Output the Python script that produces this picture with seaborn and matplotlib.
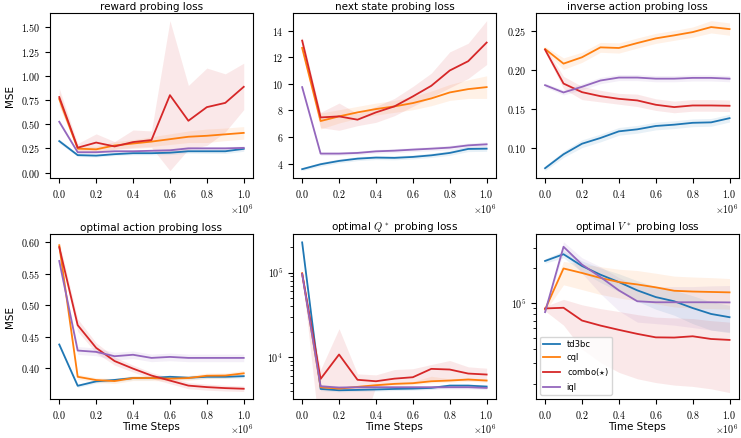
import matplotlib
matplotlib.use('Agg')
import matplotlib.pyplot as plt
import pandas as pd
import seaborn as sns
from matplotlib.ticker import FuncFormatter, MultipleLocator, LogLocator, NullFormatter
import numpy as np

plt.rcParams['font.family'] = ['DejaVu Sans']
plt.rcParams['mathtext.fontset'] = 'cm'

# x axis: training steps
steps = [0, 1e5, 2e5, 3e5, 4e5, 5e5, 6e5, 7e5, 8e5, 9e5, 1e6]
algos = ['td3bc', 'cql', 'combo($\\star$)', 'iql']
colors = ['#1f77b4', '#ff7f0e', '#d62728', '#9467bd']

# reward probing loss (mean, lower, upper)
reward = {
    'td3bc': [0.325, 0.180, 0.175, 0.190, 0.200, 0.200, 0.205, 0.220, 0.220, 0.220, 0.245],
    'cql': [0.760, 0.247, 0.240, 0.280, 0.300, 0.320, 0.345, 0.370, 0.380, 0.395, 0.410],
    'combo': [0.780, 0.257, 0.310, 0.270, 0.315, 0.336, 0.800, 0.535, 0.676, 0.720, 0.886],
    'iql': [0.525, 0.210, 0.210, 0.220, 0.220, 0.225, 0.230, 0.250, 0.250, 0.250, 0.255],
}
reward_lo = {
    'td3bc': [0.305, 0.165, 0.160, 0.175, 0.183, 0.183, 0.185, 0.200, 0.198, 0.197, 0.220],
    'cql': [0.700, 0.220, 0.210, 0.240, 0.260, 0.270, 0.290, 0.310, 0.310, 0.330, 0.345],
    'combo': [0.690, 0.230, 0.220, 0.240, 0.250, 0.260, 0.020, 0.240, 0.280, 0.420, 0.650],
    'iql': [0.505, 0.195, 0.195, 0.205, 0.205, 0.208, 0.212, 0.232, 0.232, 0.232, 0.236],
}
reward_hi = {
    'td3bc': [0.345, 0.195, 0.190, 0.205, 0.217, 0.217, 0.225, 0.240, 0.242, 0.243, 0.270],
    'cql': [0.830, 0.275, 0.270, 0.320, 0.340, 0.370, 0.400, 0.430, 0.450, 0.460, 0.475],
    'combo': [0.870, 0.300, 0.400, 0.320, 0.440, 0.430, 1.570, 0.900, 1.080, 1.020, 1.130],
    'iql': [0.545, 0.225, 0.225, 0.235, 0.235, 0.242, 0.248, 0.268, 0.268, 0.268, 0.274],
}

# next state probing loss
nstate = {
    'td3bc': [3.58, 3.95, 4.20, 4.37, 4.45, 4.43, 4.50, 4.62, 4.80, 5.10, 5.12],
    'cql': [12.70, 7.20, 7.55, 7.85, 8.10, 8.30, 8.55, 8.90, 9.35, 9.60, 9.75],
    'combo': [13.25, 7.47, 7.55, 7.30, 7.85, 8.30, 9.05, 9.85, 11.00, 11.70, 13.10],
    'iql': [9.75, 4.75, 4.75, 4.80, 4.92, 4.97, 5.05, 5.12, 5.20, 5.37, 5.45],
}
nstate_lo = {
    'td3bc': [3.47, 3.80, 4.05, 4.22, 4.30, 4.28, 4.35, 4.46, 4.62, 4.90, 4.92],
    'cql': [12.40, 6.60, 7.05, 7.40, 7.65, 7.85, 8.05, 8.35, 8.75, 8.90, 8.90],
    'combo': [12.95, 6.70, 6.50, 6.85, 7.10, 7.60, 8.30, 9.00, 9.70, 10.40, 11.45],
    'iql': [9.60, 4.62, 4.62, 4.66, 4.78, 4.82, 4.90, 4.96, 5.03, 5.20, 5.27],
}
nstate_hi = {
    'td3bc': [3.69, 4.10, 4.35, 4.52, 4.60, 4.58, 4.65, 4.78, 4.98, 5.30, 5.32],
    'cql': [13.00, 7.80, 8.05, 8.30, 8.55, 8.75, 9.05, 9.45, 9.95, 10.30, 10.60],
    'combo': [13.55, 7.85, 8.55, 7.75, 8.30, 8.90, 9.80, 10.80, 12.40, 13.05, 14.75],
    'iql': [9.90, 4.88, 4.88, 4.94, 5.06, 5.12, 5.20, 5.28, 5.37, 5.54, 5.63],
}

# inverse action probing loss
invact = {
    'td3bc': [0.0734, 0.0914, 0.1050, 0.1124, 0.1210, 0.1236, 0.1279, 0.1296, 0.1320, 0.1326, 0.1380],
    'cql': [0.2273, 0.2084, 0.2166, 0.2294, 0.2286, 0.2350, 0.2410, 0.2449, 0.2491, 0.2556, 0.2530],
    'combo': [0.2264, 0.1827, 0.1716, 0.1664, 0.1630, 0.1609, 0.1553, 0.1523, 0.1544, 0.1544, 0.1540],
    'iql': [0.1806, 0.1712, 0.1785, 0.1866, 0.1904, 0.1904, 0.1890, 0.1890, 0.1900, 0.1900, 0.1890],
}
invact_lo = {
    'td3bc': [0.0703, 0.0874, 0.1000, 0.1074, 0.1160, 0.1186, 0.1229, 0.1246, 0.1270, 0.1276, 0.1330],
    'cql': [0.2240, 0.2010, 0.2100, 0.2230, 0.2220, 0.2285, 0.2345, 0.2385, 0.2425, 0.2480, 0.2450],
    'combo': [0.2235, 0.1760, 0.1620, 0.1590, 0.1560, 0.1530, 0.1480, 0.1450, 0.1470, 0.1470, 0.1465],
    'iql': [0.1780, 0.1680, 0.1745, 0.1825, 0.1865, 0.1865, 0.1850, 0.1850, 0.1860, 0.1860, 0.1850],
}
invact_hi = {
    'td3bc': [0.0765, 0.0954, 0.1100, 0.1174, 0.1260, 0.1286, 0.1329, 0.1346, 0.1370, 0.1376, 0.1430],
    'cql': [0.2306, 0.2158, 0.2232, 0.2358, 0.2352, 0.2415, 0.2475, 0.2513, 0.2557, 0.2639, 0.2610],
    'combo': [0.2295, 0.1920, 0.1790, 0.1740, 0.1700, 0.1690, 0.1630, 0.1600, 0.1620, 0.1620, 0.1615],
    'iql': [0.1832, 0.1744, 0.1825, 0.1907, 0.1943, 0.1943, 0.1930, 0.1930, 0.1940, 0.1940, 0.1930],
}

# optimal action probing loss
optact = {
    'td3bc': [0.4373, 0.3717, 0.3787, 0.3810, 0.3840, 0.3840, 0.3860, 0.3845, 0.3860, 0.3860, 0.3870],
    'cql': [0.5950, 0.3860, 0.3808, 0.3792, 0.3840, 0.3840, 0.3830, 0.3840, 0.3877, 0.3880, 0.3915],
    'combo': [0.5920, 0.4680, 0.4320, 0.4110, 0.3990, 0.3880, 0.3800, 0.3720, 0.3696, 0.3680, 0.3670],
    'iql': [0.5700, 0.4277, 0.4256, 0.4187, 0.4210, 0.4160, 0.4176, 0.4160, 0.4160, 0.4160, 0.4160],
}
optact_lo = {
    'td3bc': [0.4340, 0.3690, 0.3760, 0.3783, 0.3813, 0.3813, 0.3833, 0.3818, 0.3833, 0.3833, 0.3843],
    'cql': [0.5900, 0.3820, 0.3770, 0.3752, 0.3800, 0.3800, 0.3790, 0.3800, 0.3835, 0.3838, 0.3870],
    'combo': [0.5830, 0.4580, 0.4240, 0.4045, 0.3935, 0.3830, 0.3750, 0.3670, 0.3648, 0.3634, 0.3626],
    'iql': [0.5660, 0.4215, 0.4195, 0.4125, 0.4150, 0.4100, 0.4115, 0.4100, 0.4100, 0.4100, 0.4100],
}
optact_hi = {
    'td3bc': [0.4406, 0.3744, 0.3814, 0.3837, 0.3867, 0.3867, 0.3887, 0.3872, 0.3887, 0.3887, 0.3897],
    'cql': [0.6000, 0.3900, 0.3846, 0.3832, 0.3880, 0.3880, 0.3870, 0.3880, 0.3919, 0.3922, 0.3960],
    'combo': [0.6009, 0.4780, 0.4400, 0.4175, 0.4045, 0.3930, 0.3850, 0.3770, 0.3744, 0.3726, 0.3714],
    'iql': [0.5740, 0.4340, 0.4318, 0.4250, 0.4270, 0.4220, 0.4237, 0.4220, 0.4220, 0.4220, 0.4220],
}

# optimal Q* probing loss (log scale)
qstar = {
    'td3bc': [227000, 4210, 4060, 4100, 4150, 4210, 4250, 4330, 4610, 4610, 4490],
    'cql': [98000, 4410, 4250, 4450, 4660, 4830, 4920, 5190, 5290, 5440, 5290],
    'combo': [97000, 5530, 10750, 5400, 5190, 5570, 5790, 7270, 7140, 6400, 6230],
    'iql': [95500, 4530, 4370, 4410, 4410, 4410, 4410, 4410, 4410, 4410, 4330],
}
qstar_lo = {
    'td3bc': [215000, 4020, 3890, 3930, 3970, 4030, 4070, 4150, 4400, 4400, 4290],
    'cql': [95000, 4230, 4080, 4260, 4460, 4620, 4700, 4950, 5050, 5190, 5050],
    'combo': [93000, 1000, 1000, 1000, 4530, 4870, 4960, 5400, 5400, 5250, 5250],
    'iql': [92000, 4320, 4170, 4210, 4210, 4210, 4210, 4210, 4210, 4210, 4130],
}
qstar_hi = {
    'td3bc': [240000, 4400, 4240, 4280, 4340, 4400, 4440, 4520, 4830, 4830, 4700],
    'cql': [101000, 4600, 4430, 4650, 4870, 5050, 5150, 5950, 5540, 5700, 5540],
    'combo': [101000, 7140, 21700, 6340, 6170, 7140, 7300, 8180, 9130, 7680, 7400],
    'iql': [99000, 4750, 4580, 4620, 4620, 4620, 4620, 4620, 4620, 4620, 4540],
}

# optimal V* probing loss (log scale)
vstar = {
    'td3bc': [230000, 263000, 208000, 175000, 151000, 128000, 112000, 103000, 90000, 80000, 75000],
    'cql': [87500, 198000, 181000, 164000, 151000, 144000, 136000, 127000, 125000, 124000, 123000],
    'combo': [89300, 90500, 70200, 63500, 58300, 53800, 50200, 50000, 51300, 48600, 47700],
    'iql': [83000, 305000, 214000, 167000, 128000, 103000, 101000, 101000, 101000, 101000, 100700],
}
vstar_lo = {
    'td3bc': [220000, 245000, 185000, 150000, 125000, 103000, 88000, 78000, 66000, 58000, 55000],
    'cql': [84000, 143000, 130000, 118000, 110000, 104000, 98000, 92000, 90000, 89000, 88000],
    'combo': [85000, 64000, 39800, 30500, 25000, 22000, 20400, 19400, 18900, 18000, 16700],
    'iql': [80000, 275000, 180000, 120000, 85000, 68000, 66000, 64000, 61000, 58000, 56000],
}
vstar_hi = {
    'td3bc': [240000, 282000, 230000, 200000, 178000, 155000, 138000, 128000, 115000, 102000, 95000],
    'cql': [91000, 228000, 215000, 205000, 195000, 190000, 180000, 170000, 167000, 165000, 162000],
    'combo': [93000, 107000, 96000, 89000, 84000, 79000, 75000, 74000, 73000, 70000, 68000],
    'iql': [86000, 337000, 245000, 205000, 165000, 140000, 138000, 138000, 138000, 140000, 141000],
}

panels = [
    ('reward probing loss', reward, reward_lo, reward_hi),
    ('next state probing loss', nstate, nstate_lo, nstate_hi),
    ('inverse action probing loss', invact, invact_lo, invact_hi),
    ('optimal action probing loss', optact, optact_lo, optact_hi),
    ('optimal $Q^*$ probing loss', qstar, qstar_lo, qstar_hi),
    ('optimal $V^*$ probing loss', vstar, vstar_lo, vstar_hi),
]

fig, axes = plt.subplots(2, 3, figsize=(7.41, 4.38), dpi=100)
fig.subplots_adjust(left=0.0675, right=0.997, top=0.970, bottom=0.089,
                    wspace=0.197, hspace=0.339)

tick_fs = 7.2
palette = dict(zip(algos, colors))

for i, (title, mean, lo, hi) in enumerate(panels):
    ax = axes.flat[i]
    rows = []
    for key, name in zip(mean, algos):
        for s, v in zip(steps, mean[key]):
            rows.append({'step': s, 'value': v, 'algo': name})
    df = pd.DataFrame(rows)
    sns.lineplot(data=df, x='step', y='value', hue='algo', palette=palette,
                 errorbar=None, linewidth=1.3, ax=ax, legend=(i == 5))
    for key, c in zip(mean, colors):
        ax.fill_between(steps, lo[key], hi[key], color=c, alpha=0.1, linewidth=0)

    ax.set_title(title, fontsize=7.5, pad=2.5)
    ax.set_xlabel('Time Steps' if i >= 3 else '', fontsize=7.5, labelpad=1)
    ax.set_ylabel('MSE' if i % 3 == 0 else '', fontsize=7.5)

    ax.xaxis.set_major_locator(MultipleLocator(2e5))
    ax.xaxis.set_major_formatter(FuncFormatter(lambda v, p: '$\\mathrm{%.1f}$' % (v / 1e6)))
    ax.text(1.0, -0.145, '$\\times\\mathrm{10^{6}}$', transform=ax.transAxes,
            ha='right', va='top', fontsize=tick_fs)

    if i in (4, 5):
        ax.set_yscale('log')
        ax.yaxis.set_major_locator(LogLocator(base=10))
        ax.yaxis.set_minor_locator(LogLocator(base=10, subs=np.arange(2, 10)))
        ax.yaxis.set_major_formatter(FuncFormatter(
            lambda v, p: '$\\mathrm{10^{%d}}$' % round(np.log10(v))))
        ax.yaxis.set_minor_formatter(NullFormatter())
    else:
        step = {0: 0.25, 1: 2, 2: 0.05, 3: 0.05}[i]
        fmt = '%.0f' if i == 1 else '%.2f'
        ax.yaxis.set_major_locator(MultipleLocator(step))
        ax.yaxis.set_major_formatter(FuncFormatter(lambda v, p, f=fmt: '$\\mathrm{' + (f % v) + '}$'))
    ax.tick_params(labelsize=tick_fs)

axes[1, 1].set_ylim(3200, 285000)
axes[1, 2].set_ylim(14700, 393000)

leg = axes[1, 2].legend(loc='lower left', fontsize=6, title=None)

fig.savefig('out.png', dpi=100)
